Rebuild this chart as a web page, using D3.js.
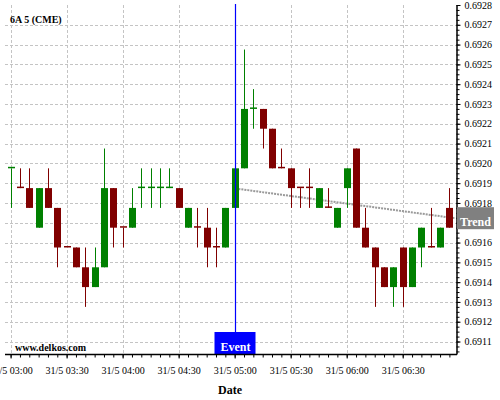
<!DOCTYPE html>
<html>
<head>
<meta charset="utf-8">
<script src="https://cdn.jsdelivr.net/npm/d3@7"></script>
<style>
  body { margin: 0; background: #fff; }
  text { font-family: "Liberation Serif", "Times New Roman", serif; }
</style>
</head>
<body>
<svg width="500" height="400"></svg>
<script>
// 6A 5 (CME), 5 minute bars on 31/5
var times = ["03:00","03:05","03:10","03:15","03:20","03:25","03:30","03:35","03:40","03:45","03:50","03:55",
             "04:00","04:05","04:10","04:15","04:20","04:25","04:30","04:35","04:40","04:45","04:50","04:55",
             "05:00","05:05","05:10","05:15","05:20","05:25","05:30","05:35","05:40","05:45","05:50","05:55",
             "06:00","06:05","06:10","06:15","06:20","06:25","06:30","06:35","06:40","06:45","06:50","06:55"];

var opens  = [0.691975,0.691875,0.691875,0.691675,0.691875,0.691775,0.691575,0.691575,0.691475,0.691375,0.691475,0.691875,
              0.691675,0.691675,0.691875,0.691875,0.691875,0.691875,0.691875,0.691675,0.691675,0.691675,0.691575,0.691575,
              0.691775,0.691975,0.692275,0.692275,0.692175,0.691975,0.691975,0.691875,0.691875,0.691775,0.691775,0.691675,
              0.691875,0.692075,0.691675,0.691575,0.691475,0.691375,0.691575,0.691375,0.691575,0.691575,0.691575,0.691775];
var highs  = [0.691975,0.691975,0.691975,0.691875,0.691975,0.691775,0.691575,0.691575,0.691575,0.691575,0.692075,0.691875,
              0.691675,0.691875,0.691975,0.691975,0.691975,0.691975,0.691875,0.691775,0.691775,0.691775,0.691675,0.691775,
              0.691975,0.692575,0.692375,0.692275,0.692175,0.692075,0.691975,0.691875,0.691975,0.691875,0.691875,0.691775,
              0.691975,0.692075,0.691775,0.691575,0.691475,0.691475,0.691575,0.691575,0.691675,0.691775,0.691675,0.691875];
var lows   = [0.691775,0.691875,0.691775,0.691675,0.691775,0.691475,0.691575,0.691475,0.691275,0.691375,0.691475,0.691575,
              0.691575,0.691675,0.691775,0.691775,0.691775,0.691875,0.691775,0.691675,0.691575,0.691475,0.691475,0.691575,
              0.691775,0.691975,0.692175,0.692075,0.691975,0.691975,0.691775,0.691775,0.691775,0.691775,0.691775,0.691675,
              0.691775,0.691675,0.691575,0.691275,0.691375,0.691275,0.691275,0.691375,0.691475,0.691575,0.691575,0.691675];
var closes = [0.691975,0.691875,0.691775,0.691875,0.691775,0.691575,0.691575,0.691475,0.691375,0.691475,0.691875,0.691675,
              0.691675,0.691775,0.691875,0.691875,0.691875,0.691875,0.691775,0.691775,0.691675,0.691575,0.691575,0.691775,
              0.691975,0.692275,0.692275,0.692175,0.691975,0.691975,0.691875,0.691875,0.691875,0.691875,0.691775,0.691775,
              0.691975,0.691675,0.691575,0.691475,0.691375,0.691475,0.691375,0.691575,0.691675,0.691575,0.691675,0.691675];
// bars where open == close but drawn as up bars
var upDojis = ["03:00","04:10","04:15","04:20","04:25","05:10"];

var yTicks = [0.6911,0.6912,0.6913,0.6914,0.6915,0.6916,0.6917,0.6918,0.6919,0.6920,
              0.6921,0.6922,0.6923,0.6924,0.6925,0.6926,0.6927,0.6928];
var xTicks = ["03:00","03:30","04:00","04:30","05:00","05:30","06:00","06:30"];
var xDomain = ["02:57","06:58"];
var yDomain = [0.691037, 0.6928];

var eventTime = "05:00";
var trendTimes = ["05:02","06:58"];
var trendValues = [0.691871, 0.691723];

var parse = d3.timeParse("%d/%m/%Y %H:%M");
function t(s) { return parse("31/05/2012 " + s); }

var svg = d3.select("svg");
var pLeft = 5, pRight = 455, pTop = 5, pBottom = 354;

var x = d3.scaleTime().domain(xDomain.map(t)).range([pLeft, pRight]);
var y = d3.scaleLinear().domain(yDomain).range([pBottom, pTop]);

var bars = times.map(function (s, i) {
    return { t: t(s), o: opens[i], h: highs[i], l: lows[i], c: closes[i],
             up: closes[i] > opens[i] || (closes[i] == opens[i] && upDojis.indexOf(s) >= 0) };
});

// grid
var grid = svg.append("g").attr("stroke", "#c4c4c4").attr("stroke-dasharray", "3,2");
grid.selectAll(".hg").data(yTicks.slice(0, -1)).enter().append("line")
    .attr("x1", pLeft).attr("x2", pRight + 1)
    .attr("y1", function (d) { return Math.round(y(d)) + 0.5; })
    .attr("y2", function (d) { return Math.round(y(d)) + 0.5; });
grid.selectAll(".vg").data(xTicks).enter().append("line")
    .attr("y1", pTop).attr("y2", pBottom)
    .attr("x1", function (d) { return Math.round(x(t(d))) + 0.5; })
    .attr("x2", function (d) { return Math.round(x(t(d))) + 0.5; });

// trend
svg.append("path")
    .datum(trendTimes.map(function (s, i) { return [t(s), trendValues[i]]; }))
    .attr("fill", "none").attr("stroke", "#9a9a9a").attr("stroke-width", 2)
    .attr("stroke-dasharray", "2,1")
    .attr("d", d3.line().x(function (d) { return x(d[0]); }).y(function (d) { return y(d[1]); }));

// candles
var bw = 7;
var node = svg.selectAll(".bar").data(bars).enter().append("g")
    .attr("transform", function (d) { return "translate(" + (Math.round(x(d.t)) + 0.5) + ",0)"; });
node.append("line")
    .attr("y1", function (d) { return y(d.h); })
    .attr("y2", function (d) { return y(d.l); })
    .attr("stroke", function (d) { return d.up ? "#008000" : "#800000"; });
node.append("rect")
    .attr("x", -bw / 2)
    .attr("width", bw)
    .attr("y", function (d) { return d.o == d.c ? y(d.o) - 1.5 : y(Math.max(d.o, d.c)); })
    .attr("height", function (d) { return d.o == d.c ? 1.5 : Math.abs(y(d.o) - y(d.c)); })
    .attr("fill", function (d) { return d.up ? "#008000" : "#800000"; });

// event marker
var ex = Math.round(x(t(eventTime))) + 0.5;
svg.append("line").attr("x1", ex).attr("x2", ex).attr("y1", pTop - 1).attr("y2", pBottom)
    .attr("stroke", "#0000ff").attr("stroke-width", 1.2);
svg.append("rect").attr("x", ex - 21).attr("y", pBottom - 22).attr("width", 41).attr("height", 22)
    .attr("fill", "#0000ff");
svg.append("text").attr("x", ex).attr("y", pBottom - 3.5).attr("text-anchor", "middle")
    .attr("fill", "#fff").attr("font-weight", "bold").attr("font-size", 12).text("Event");

// trend label position (the box hides the axis label behind it)
var ty = y(trendValues[1]);
var yFmt = d3.format(".4f");

// axes
var yAxis = svg.append("g").attr("transform", "translate(" + (pRight + 1.5) + ",0)")
    .call(d3.axisRight(y).tickValues(yTicks)
        .tickFormat(function (d) { return Math.abs(y(d) - ty) < 9 ? "" : yFmt(d); })
        .tickSize(4).tickPadding(4).tickSizeOuter(0));
svg.append("g").attr("transform", "translate(" + (pRight + 1.5) + ",0)")
    .call(d3.axisRight(y).tickValues(d3.range(0, 71).map(function (k) { return 0.69105 + k * 0.000025; }))
        .tickFormat("").tickSize(3).tickSizeOuter(0))
    .select(".domain").remove();
yAxis.selectAll("text").attr("font-size", 10).attr("font-family", "Liberation Serif, serif");
yAxis.select(".domain").attr("stroke-width", 1.5);

var xAxis = svg.append("g").attr("transform", "translate(0," + (pBottom + 0.5) + ")")
    .call(d3.axisBottom(x).tickValues(xTicks.map(t))
        .tickFormat(function (d) { return "31/5 " + d3.timeFormat("%H:%M")(d); })
        .tickSize(4).tickPadding(8).tickSizeOuter(0));
xAxis.select(".domain").remove();
xAxis.selectAll("text").attr("font-size", 10).attr("font-family", "Liberation Serif, serif");
svg.append("g").attr("transform", "translate(0," + (pBottom + 0.5) + ")")
    .call(d3.axisBottom(x).ticks(d3.timeMinute.every(5)).tickFormat("").tickSize(3).tickSizeOuter(0))
    .select(".domain").remove();
svg.append("line").attr("x1", pLeft).attr("x2", pRight + 2).attr("y1", pBottom + 0.5).attr("y2", pBottom + 0.5)
    .attr("stroke", "#000").attr("stroke-width", 1.5);

// trend label
svg.append("rect").attr("x", pRight + 2).attr("y", ty - 11).attr("width", 37).attr("height", 22).attr("fill", "#808080");
svg.append("text").attr("x", pRight + 20.5).attr("y", ty + 8).attr("text-anchor", "middle")
    .attr("fill", "#fff").attr("font-weight", "bold").attr("font-size", 12).text("Trend");

// titles
svg.append("text").attr("x", 10).attr("y", 23).attr("font-weight", "bold").attr("font-size", 10).text("6A 5 (CME)");
svg.append("text").attr("x", 15).attr("y", 351).attr("font-weight", "bold").attr("font-size", 10).text("www.delkos.com");
svg.append("text").attr("x", 230).attr("y", 394).attr("text-anchor", "middle")
    .attr("font-weight", "bold").attr("font-size", 12).text("Date");
</script>
</body>
</html>
